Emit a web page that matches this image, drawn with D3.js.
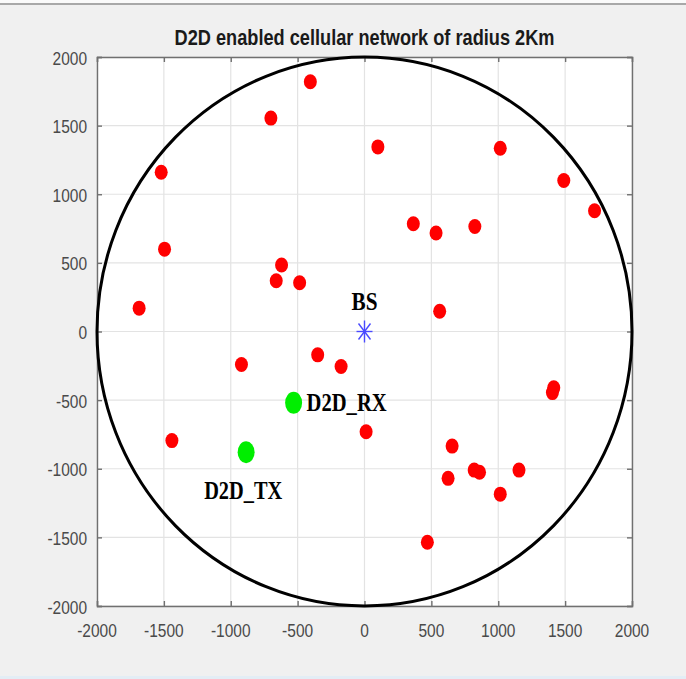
<!DOCTYPE html>
<html>
<head>
<meta charset="utf-8">
<script src="https://cdn.jsdelivr.net/npm/d3@7"></script>
<style>
  body { margin: 0; background: #f0f0f0; }
  svg { display: block; }
</style>
</head>
<body>
<div id="container"></div>
<script>
/* CONSTANTS AND GLOBALS */
const width = 686,
      height = 679,
      margin = {top: 57, left: 97, bottom: 73, right: 54};

/* DATA */
const ticks = [-2000, -1500, -1000, -500, 0, 500, 1000, 1500, 2000];
const cellRadius = 2000;
const bs = {x: 0, y: 0, label: "BS"};
const d2dTx = {x: -885, y: -880, label: "D2D_TX"};
const d2dRx = {x: -530, y: -520, label: "D2D_RX"};
const ueX = [-405, -700, 100, 1015, -1520, 1490, 1720, 365, 535, 825,
             -1495, -620, -660, -485, -1685, 562, -350, -175, -920, 1415,
             1405, 12, -1440, 655, 625, 820, 860, 1155, 1015, 470];
const ueY = [1820, 1555, 1345, 1335, 1160, 1100, 880, 785, 718, 765,
             600, 485, 370, 355, 170, 148, -170, -255, -240, -410,
             -445, -730, -795, -835, -1070, -1010, -1025, -1010, -1185, -1535];
const ues = ueX.map((x, i) => ({x: x, y: ueY[i]}));

// SCALES
const xScale = d3.scaleLinear()
                 .domain([-2000, 2000])
                 .range([margin.left, width - margin.right]);
const yScale = d3.scaleLinear()
                 .domain([-2000, 2000])
                 .range([height - margin.bottom, margin.top]);

// CREATE SVG ELEMENT
const svg = d3.select("#container")
              .append("svg")
              .attr("width", width)
              .attr("height", height);

// window frame lines
svg.append("rect").attr("x", 0).attr("y", 0).attr("width", width).attr("height", 3).attr("fill", "#fafafa");
svg.append("rect").attr("x", 0).attr("y", 3).attr("width", width).attr("height", 2).attr("fill", "#a8a8a8");
svg.append("rect").attr("x", 0).attr("y", height - 3).attr("width", width).attr("height", 3).attr("fill", "#e3edf5");

// stretched text helper (the picture is tall-stretched)
function label(g, x, y, txt, opts) {
  const t = g.append("text")
    .attr("transform", `translate(${x},${y}) scale(1,${opts.sy || 1.25})`)
    .attr("text-anchor", opts.anchor || "middle")
    .attr("font-family", opts.family || "'Liberation Sans', Arial, sans-serif")
    .attr("font-size", opts.size)
    .attr("font-weight", opts.weight || "normal")
    .attr("fill", opts.fill || "#000")
    .text(txt);
  if (opts.len) t.attr("textLength", opts.len).attr("lengthAdjust", "spacingAndGlyphs");
  return t;
}

// plot area
const x0 = xScale.range()[0], x1 = xScale.range()[1];
const y0 = yScale.range()[1], y1 = yScale.range()[0];
svg.append("rect")
   .attr("x", x0).attr("y", y0)
   .attr("width", x1 - x0).attr("height", y1 - y0)
   .attr("fill", "#fff");

// GRID
svg.append("g")
   .selectAll("line")
   .data(ticks)
   .join("line")
   .attr("x1", d => xScale(d)).attr("x2", d => xScale(d))
   .attr("y1", y0).attr("y2", y1)
   .attr("stroke", "#e3e3e3").attr("stroke-width", 1.2);
svg.append("g")
   .selectAll("line")
   .data(ticks)
   .join("line")
   .attr("y1", d => yScale(d)).attr("y2", d => yScale(d))
   .attr("x1", x0).attr("x2", x1)
   .attr("stroke", "#e3e3e3").attr("stroke-width", 1.2);

// AXES (ticks inward, box on)
const axisColor = "#707070";
const xAxisB = d3.axisBottom(xScale).tickValues(ticks).tickSize(-5).tickFormat("");
const xAxisT = d3.axisTop(xScale).tickValues(ticks).tickSize(-5).tickFormat("");
const yAxisL = d3.axisLeft(yScale).tickValues(ticks).tickSize(-5).tickFormat("");
const yAxisR = d3.axisRight(yScale).tickValues(ticks).tickSize(-5).tickFormat("");
[[xAxisB, `translate(0,${y1})`], [xAxisT, `translate(0,${y0})`],
 [yAxisL, `translate(${x0},0)`], [yAxisR, `translate(${x1},0)`]].forEach(([ax, tr]) => {
  const g = svg.append("g").attr("transform", tr).call(ax);
  g.selectAll("path,line").attr("stroke", axisColor).attr("stroke-width", 1.4);
});

// tick labels
const tickG = svg.append("g");
ticks.forEach(t => {
  const s = String(t);
  label(tickG, xScale(t), y1 + 31, s, {size: 15.5, fill: "#4a4a4a", sy: 1.2});
  label(tickG, x0 - 10, yScale(t) + 7.5, s, {size: 15.5, fill: "#4a4a4a", anchor: "end", sy: 1.2});
});

// TITLE
label(svg, (x0 + x1) / 2, 45, "D2D enabled cellular network of radius 2Km",
      {size: 16, weight: "bold", fill: "#1a1a1a", len: 380, sy: 1.35});

// CELL BOUNDARY
svg.append("ellipse")
   .attr("cx", xScale(0)).attr("cy", yScale(0))
   .attr("rx", xScale(cellRadius) - xScale(0))
   .attr("ry", yScale(0) - yScale(cellRadius))
   .attr("fill", "none")
   .attr("stroke", "#000")
   .attr("stroke-width", 3);

// USERS
svg.selectAll("ellipse.ue")
   .data(ues)
   .join("ellipse")
   .attr("class", "ue")
   .attr("cx", d => xScale(d.x))
   .attr("cy", d => yScale(d.y))
   .attr("rx", 6.5).attr("ry", 7.5)
   .attr("fill", "#ff0000");

// D2D PAIR
svg.selectAll("ellipse.d2d")
   .data([d2dTx, d2dRx])
   .join("ellipse")
   .attr("class", "d2d")
   .attr("cx", d => xScale(d.x))
   .attr("cy", d => yScale(d.y))
   .attr("rx", 8.5).attr("ry", 11)
   .attr("fill", "#00ee00");

// BASE STATION asterisk
const bsG = svg.append("g")
   .attr("transform", `translate(${xScale(bs.x)},${yScale(bs.y)})`)
   .attr("stroke", "#4a4aff").attr("stroke-width", 1.4);
bsG.append("line").attr("x1", 0).attr("x2", 0).attr("y1", -11).attr("y2", 11);
bsG.append("line").attr("x1", -8).attr("x2", 8).attr("y1", 0).attr("y2", 0);
bsG.append("line").attr("x1", -6).attr("x2", 6).attr("y1", -8).attr("y2", 8);
bsG.append("line").attr("x1", -6).attr("x2", 6).attr("y1", 8).attr("y2", -8);

// TEXT LABELS
const serif = "'Liberation Serif', 'Times New Roman', serif";
label(svg, xScale(bs.x), yScale(bs.y) - 22, bs.label,
      {size: 20, weight: "bold", family: serif, len: 26, sy: 1.3});
label(svg, xScale(d2dRx.x) + 13, yScale(d2dRx.y) + 8, d2dRx.label,
      {size: 20, weight: "bold", family: serif, anchor: "start", len: 80, sy: 1.3});
label(svg, xScale(d2dTx.x) - 3, yScale(d2dTx.y) + 47, d2dTx.label,
      {size: 20, weight: "bold", family: serif, len: 78, sy: 1.3});
</script>
</body>
</html>
